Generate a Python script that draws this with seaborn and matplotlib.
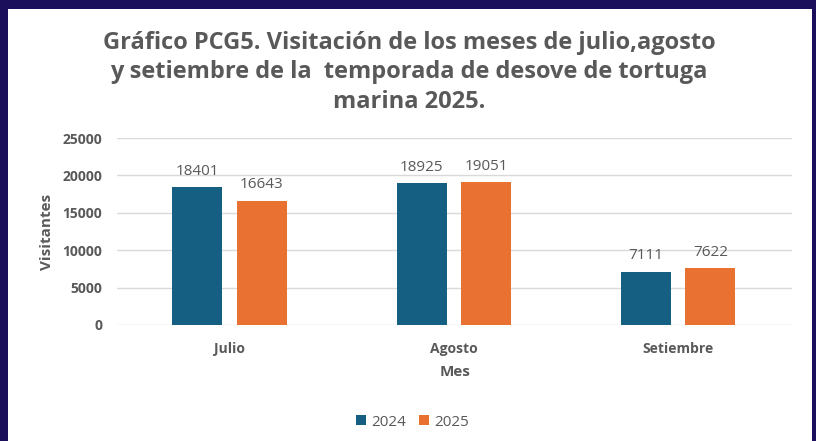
import pandas as pd
import matplotlib.pyplot as plt
import seaborn as sns
from matplotlib.patches import Rectangle

meses = ['Julio', 'Agosto', 'Setiembre']
v2024 = [18401, 18925, 7111]
v2025 = [16643, 19051, 7622]
anios = ['2024', '2025']
yticks = [0, 5000, 10000, 15000, 20000, 25000]

df = pd.DataFrame({
    'Mes': meses * 2,
    'Visitantes': v2024 + v2025,
    'Año': [anios[0]] * 3 + [anios[1]] * 3,
})

gris = '#595959'
sns.set_style('white')
plt.rcParams['font.family'] = ['Open Sans', 'DejaVu Sans']

fig = plt.figure(figsize=(8.16, 4.41), dpi=100)
fig.patch.set_facecolor('#1b0f5c')
fondo = Rectangle((8 / 816, 0), (812 - 8) / 816, (441 - 9) / 441,
                  transform=fig.transFigure, facecolor='white',
                  edgecolor='none', zorder=-10)
fig.add_artist(fondo)

ax = fig.add_axes([117.5 / 816, (441 - 325) / 441, 674.5 / 816, 187 / 441])
ax.set_facecolor('none')
sns.barplot(data=df, x='Mes', y='Visitantes', hue='Año',
            palette=['#156082', '#e97132'], saturation=1,
            width=0.576, gap=0.225, edgecolor='none', ax=ax, legend=True)

for cont in ax.containers:
    ax.bar_label(cont, padding=6, fontsize=11, color=gris)

ax.set_ylim(0, 25000)
ax.set_xlim(-0.5, 2.508)
ax.set_yticks(yticks)
ax.yaxis.grid(True, color='#d9d9d9', linewidth=1)
ax.set_axisbelow(True)
for s in ax.spines.values():
    s.set_visible(False)
ax.tick_params(length=0, labelsize=10, labelcolor=gris)
ax.tick_params(axis='y', pad=11)
ax.tick_params(axis='x', pad=12)
for lab in ax.get_xticklabels() + ax.get_yticklabels():
    lab.set_fontweight('bold')

ax.set_ylabel('Visitantes', fontsize=11, fontweight='bold', color=gris, labelpad=6)
ax.set_xlabel('Mes', fontsize=11, fontweight='bold', color=gris, labelpad=7)

ax.legend(loc='center', bbox_to_anchor=(295 / 674.5, -0.52), ncol=2,
          frameon=False, fontsize=11, labelcolor=gris, handlelength=0.65,
          handleheight=0.65, handletextpad=0.3, columnspacing=0.9)

fig.text(409 / 816, 1 - 31 / 441,
         'Gráfico PCG5. Visitación de los meses de julio,agosto\n'
         'y setiembre de la  temporada de desove de tortuga\nmarina 2025.',
         ha='center', va='top', fontsize=17, fontweight='bold', color=gris,
         linespacing=1.3)

fig.savefig('out.png', dpi=100, facecolor=fig.get_facecolor())
